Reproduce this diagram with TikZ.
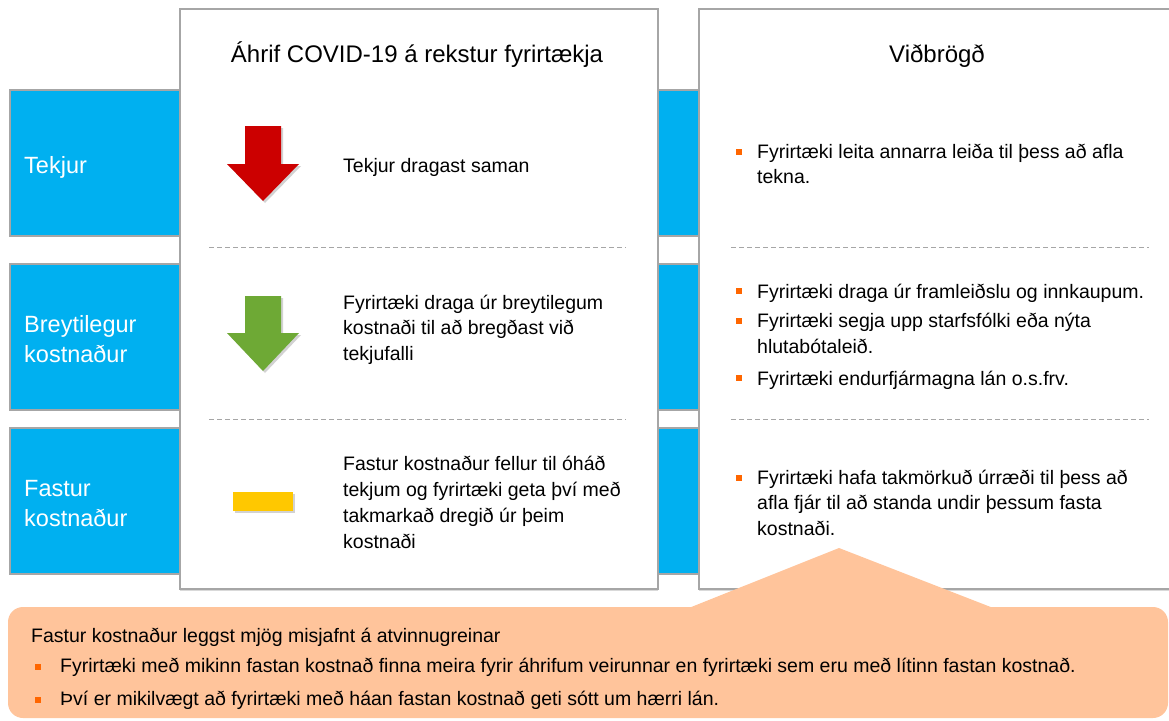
\documentclass[tikz,border=0pt]{standalone}
\usepackage{fontspec}
\setmainfont{Liberation Sans}
\usetikzlibrary{shadows}
\definecolor{bandblue}{HTML}{00B0F0}
\definecolor{bordergray}{HTML}{A6A6A6}
\definecolor{arrowred}{HTML}{CC0000}
\definecolor{arrowgreen}{HTML}{6EA935}
\definecolor{baryellow}{HTML}{FFC800}
\definecolor{calloutfill}{HTML}{FFC49B}
\definecolor{bulletorange}{HTML}{FF6600}
\definecolor{dashgray}{HTML}{A6A6A6}
\begin{document}
\begin{tikzpicture}[x=1pt,y=-1pt,
  band/.style={fill=bandblue, draw=bordergray, line width=1.2pt},
  panel/.style={fill=white, draw=bordergray, line width=1.2pt,
    drop shadow={shadow xshift=0pt,shadow yshift=-1.5pt,opacity=0.3}},
  bandlabel/.style={anchor=base west, inner sep=0pt, text=white, align=left,
    font=\fontsize{23.5}{30}\selectfont},
  paneltitle/.style={anchor=base, inner sep=0pt, font=\fontsize{24}{29}\selectfont},
  bodytext/.style={anchor=base west, inner sep=0pt, align=left,
    font=\fontsize{19.5}{25.3}\selectfont},
  bulletsq/.style={fill=bulletorange, draw=none, minimum size=6pt, inner sep=0pt},
  sepline/.style={draw=dashgray, dash pattern=on 5pt off 3pt, line width=0.8pt},
  iconshadow/.style={drop shadow={shadow xshift=2pt,shadow yshift=-2pt,opacity=0.35}}
]
\useasboundingbox (0,0) rectangle (1169,720);
\begin{scope}
\clip (0,0) rectangle (1169,720);
% blue bands
\draw[band] (10,90) rectangle (1190,236);
\draw[band] (10,264) rectangle (1190,410);
\draw[band] (10,428) rectangle (1190,574);
% panels
\draw[panel] (180,9) rectangle (658,589);
\draw[panel] (699,9) rectangle (1190,589);
\end{scope}

% band labels (base anchor = last line baseline)
\node[bandlabel] (lab1) at (24,173) {Tekjur};
\node[bandlabel] (lab2) at (24,362) {Breytilegur\\kostnaður};
\node[bandlabel] (lab3) at (24,526) {Fastur\\kostnaður};

% titles
\node[paneltitle] (title1) at (417,62) {Áhrif COVID-19 á rekstur fyrirtækja};
\node[paneltitle] (title2) at (937,62) {Viðbrögð};

% separators
\draw[sepline] (209,247) -- (626,247);
\draw[sepline] (209,419) -- (626,419);
\draw[sepline] (731,247) -- (1149,247);
\draw[sepline] (731,419) -- (1149,419);

% icons
\fill[arrowred, iconshadow] (245,126) -- (281,126) -- (281,164) -- (299,164) -- (263,201) -- (227,164) -- (245,164) -- cycle;
\fill[arrowgreen, iconshadow] (245,296) -- (281,296) -- (281,333) -- (299,333) -- (263,371) -- (227,333) -- (245,333) -- cycle;
\fill[baryellow, iconshadow] (233,492) rectangle (293,511);

% left panel texts
\node[bodytext] (e1) at (343,172) {Tekjur dragast saman};
\node[bodytext] (e2) at (343,360) {Fyrirtæki draga úr breytilegum\\kostnaði til að bregðast við\\tekjufalli};
\node[bodytext, font=\fontsize{19.5}{25.7}\selectfont] (e3) at (343,548) {Fastur kostnaður fellur til óháð\\tekjum og fyrirtæki geta því með\\takmarkað dregið úr þeim\\kostnaði};

% right panel texts
\node[bulletsq] (b1) at (739,152) {};
\node[bodytext, font=\fontsize{19.5}{24.5}\selectfont] (r1) at (757,183) {Fyrirtæki leita annarra leiða til þess að afla\\tekna.};
\node[bulletsq] (b2) at (739,291) {};
\node[bodytext] (r2) at (757,298) {Fyrirtæki draga úr framleiðslu og innkaupum.};
\node[bulletsq] (b3) at (739,321) {};
\node[bodytext] (r3) at (757,353) {Fyrirtæki segja upp starfsfólki eða nýta\\hlutabótaleið.};
\node[bulletsq] (b4) at (739,378) {};
\node[bodytext] (r4) at (757,385) {Fyrirtæki endurfjármagna lán o.s.frv.};
\node[bulletsq] (b5) at (739,478) {};
\node[bodytext] (r5) at (757,535) {Fyrirtæki hafa takmörkuð úrræði til þess að\\afla fjár til að standa undir þessum fasta\\kostnaði.};

% callout
\fill[calloutfill] (690,607.5) -- (839,548) -- (992,607.5) -- cycle;
\fill[calloutfill, rounded corners=15pt] (8,607) rectangle (1168,718);
\node[bodytext] (c0) at (31,642) {Fastur kostnaður leggst mjög misjafnt á atvinnugreinar};
\node[bulletsq] (cb1) at (38,667) {};
\node[bodytext] (c1) at (60,672) {Fyrirtæki með mikinn fastan kostnað finna meira fyrir áhrifum veirunnar en fyrirtæki sem eru með lítinn fastan kostnað.};
\node[bulletsq] (cb2) at (38,700) {};
\node[bodytext] (c2) at (60,705) {Því er mikilvægt að fyrirtæki með háan fastan kostnað geti sótt um hærri lán.};
\end{tikzpicture}
\end{document}
